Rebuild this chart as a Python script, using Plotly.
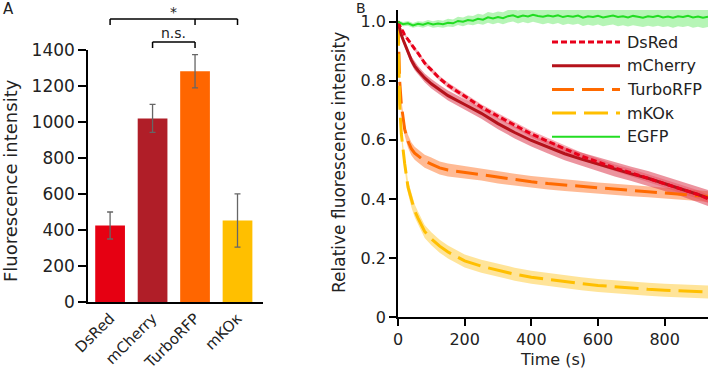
import plotly.graph_objects as go

W, H = 709, 372
FONT = "DejaVu Sans"
TXT = "#222222"

# ---------------- Panel A data ----------------
proteins = ["DsRed", "mCherry", "TurboRFP", "mKO\u03ba"]
intensity = [425, 1020, 1282, 453]
intensity_err = [75, 78, 92, 148]
bar_colors = ["#e60012", "#b01e28", "#ff6600", "#ffbf00"]
y_ticks_a = [0, 200, 400, 600, 800, 1000, 1200, 1400]

# ---------------- Panel B data ----------------
time_s = [0, 5, 10, 15, 20, 30, 40, 50, 60, 80, 100, 125, 150, 200, 250, 300,
          350, 400, 450, 500, 550, 600, 650, 700, 750, 800, 850, 900, 930]
dsred = [1.0, 0.985, 0.975, 0.967, 0.955, 0.94, 0.922, 0.908, 0.894, 0.86, 0.837,
         0.808, 0.785, 0.747, 0.711, 0.68, 0.65, 0.62, 0.595, 0.57, 0.545, 0.525,
         0.505, 0.488, 0.47, 0.452, 0.435, 0.415, 0.40]
dsred_sd = [0, 0.003, 0.004, 0.005, 0.005, 0.006, 0.006, 0.007, 0.007, 0.008, 0.008,
            0.008, 0.009, 0.009, 0.01, 0.01, 0.01, 0.011, 0.011, 0.011, 0.012, 0.012,
            0.012, 0.013, 0.013, 0.013, 0.014, 0.014, 0.014]
mcherry = [1.0, 0.975, 0.955, 0.94, 0.925, 0.895, 0.87, 0.85, 0.835, 0.81, 0.79,
           0.77, 0.75, 0.72, 0.69, 0.655, 0.625, 0.598, 0.575, 0.553, 0.535, 0.518,
           0.5, 0.485, 0.47, 0.452, 0.435, 0.415, 0.403]
mcherry_sd = [0, 0.005, 0.008, 0.01, 0.01, 0.012, 0.013, 0.014, 0.015, 0.015, 0.016,
              0.016, 0.017, 0.018, 0.018, 0.019, 0.02, 0.02, 0.021, 0.022, 0.022, 0.023,
              0.024, 0.024, 0.025, 0.025, 0.026, 0.026, 0.027]
turborfp = [1.0, 0.80, 0.72, 0.67, 0.635, 0.595, 0.57, 0.555, 0.545, 0.528, 0.518,
            0.505, 0.498, 0.49, 0.483, 0.473, 0.465, 0.458, 0.452, 0.447, 0.442, 0.437,
            0.432, 0.428, 0.424, 0.42, 0.416, 0.411, 0.408]
turborfp_sd = [0, 0.01, 0.015, 0.018, 0.02, 0.022, 0.022, 0.022, 0.022, 0.022, 0.022,
               0.022, 0.022, 0.021, 0.021, 0.021, 0.02, 0.02, 0.02, 0.02, 0.019, 0.019,
               0.019, 0.019, 0.018, 0.018, 0.018, 0.018, 0.018]
mko = [1.0, 0.72, 0.62, 0.56, 0.52, 0.44, 0.395, 0.36, 0.335, 0.29, 0.265, 0.24,
       0.22, 0.19, 0.172, 0.158, 0.145, 0.135, 0.127, 0.12, 0.113, 0.107, 0.102,
       0.098, 0.094, 0.091, 0.088, 0.086, 0.085]
mko_sd = [0, 0.012, 0.016, 0.018, 0.02, 0.022, 0.022, 0.022, 0.022, 0.022, 0.022,
          0.022, 0.022, 0.022, 0.022, 0.022, 0.022, 0.022, 0.022, 0.022, 0.022, 0.022,
          0.022, 0.022, 0.022, 0.022, 0.022, 0.022, 0.022]

egfp_time = [0, 15, 30, 45, 60, 75, 90, 105, 120, 135, 150, 165, 180, 195, 210, 225,
             240, 255, 270, 285, 300, 315, 330, 345, 360, 375, 390, 405, 420, 435,
             450, 465, 480, 495, 510, 525, 540, 555, 570, 585, 600, 615, 630, 645,
             660, 675, 690, 705, 720, 735, 750, 765, 780, 795, 810, 825, 840, 855,
             870, 885, 900, 915, 930]
egfp = [1.0, 0.992, 0.995, 0.988, 0.993, 0.99, 0.996, 0.991, 0.994, 0.992, 0.997,
        0.995, 1.003, 1.0, 1.006, 1.004, 1.01, 1.007, 1.015, 1.011, 1.016, 1.012,
        1.019, 1.022, 1.016, 1.021, 1.018, 1.024, 1.02, 1.017, 1.021, 1.018, 1.022,
        1.016, 1.02, 1.017, 1.021, 1.014, 1.019, 1.016, 1.02, 1.015, 1.018, 1.021,
        1.016, 1.019, 1.015, 1.02, 1.017, 1.014, 1.019, 1.016, 1.02, 1.015, 1.018,
        1.014, 1.019, 1.016, 1.02, 1.015, 1.018, 1.014, 1.017]
egfp_sd = [0.005, 0.007, 0.008, 0.008, 0.009, 0.01, 0.01, 0.011, 0.012, 0.012, 0.013,
           0.013, 0.014, 0.015, 0.015, 0.016, 0.017, 0.017, 0.018, 0.019, 0.019, 0.02,
           0.021, 0.021, 0.022, 0.022, 0.023, 0.024, 0.024, 0.025, 0.025, 0.026, 0.026,
           0.027, 0.027, 0.027, 0.028, 0.028, 0.029, 0.029, 0.029, 0.03, 0.03, 0.03,
           0.031, 0.031, 0.031, 0.032, 0.032, 0.032, 0.032, 0.033, 0.033, 0.033, 0.033,
           0.034, 0.034, 0.034, 0.034, 0.035, 0.035, 0.035, 0.035]

x_ticks_b = [0, 200, 400, 600, 800]
y_ticks_b = [0, 0.2, 0.4, 0.6, 0.8, 1.0]
y_ticktext_b = ["0", "0.2", "0.4", "0.6", "0.8", "1.0"]

series = [
    # name, time, mean, sd, line colour, band colour, dash, width
    ("TurboRFP", time_s, turborfp, turborfp_sd, "#ff6a00", "rgba(255,130,60,0.55)", "22px,8px", 3),
    ("mKO\u03ba", time_s, mko, mko_sd, "#ffbf00", "rgba(255,205,70,0.55)", "24px,8px", 3),
    ("mCherry", time_s, mcherry, mcherry_sd, "#b5121b", "rgba(220,60,80,0.55)", "solid", 3),
    ("DsRed", time_s, dsred, dsred_sd, "#e8001a", "rgba(235,70,90,0.45)", "6px,3px", 3),
    ("EGFP", egfp_time, egfp, egfp_sd, "#22dd22", "rgba(110,235,110,0.5)", "solid", 2),
]
legend_order = ["DsRed", "mCherry", "TurboRFP", "mKO\u03ba", "EGFP"]

fig = go.Figure()

# ---- Panel A: bars ----
fig.add_trace(go.Bar(
    x=proteins, y=intensity, marker=dict(color=bar_colors, line=dict(width=0)),
    width=0.7,
    error_y=dict(type="data", array=intensity_err, color="#666666", thickness=1.3, width=3),
    xaxis="x", yaxis="y", showlegend=False,
))

# ---- Panel B: bands then lines ----
for name, t, m, sd, lc, bc, dash, lw in series:
    upper = [a + b for a, b in zip(m, sd)]
    lower = [a - b for a, b in zip(m, sd)]
    fig.add_trace(go.Scatter(
        x=list(t) + list(t)[::-1], y=upper + lower[::-1], fill="toself",
        fillcolor=bc, line=dict(width=0), mode="lines", hoverinfo="skip",
        xaxis="x2", yaxis="y2", showlegend=False,
    ))
for name, t, m, sd, lc, bc, dash, lw in series:
    fig.add_trace(go.Scatter(
        x=t, y=m, mode="lines", name=name,
        line=dict(color=lc, width=lw, dash=dash),
        xaxis="x2", yaxis="y2", showlegend=False,
    ))


def px_x(p):
    return p / W


def px_y(p):
    return (H - p) / H


axis_common = dict(showgrid=False, zeroline=False, showline=True, linecolor="black",
                   linewidth=1.5, tickcolor="black", tickwidth=1.5, automargin=False)

fig.update_layout(
    width=W, height=H, margin=dict(l=0, r=0, t=0, b=0),
    paper_bgcolor="white", plot_bgcolor="white",
    font=dict(family=FONT, color=TXT, size=16),
    showlegend=False,
    xaxis=dict(domain=[px_x(88), px_x(263)], range=[-0.52, 3.6], ticks="",
               tickangle=-45, tickfont=dict(size=15), anchor="y", **axis_common),
    yaxis=dict(domain=[px_y(302), px_y(50)], range=[0, 1400], tickvals=y_ticks_a,
               ticks="outside", ticklen=8, tickfont=dict(size=17), anchor="x",
               **axis_common),
    xaxis2=dict(domain=[px_x(398), px_x(708)], range=[0, 930], tickvals=x_ticks_b,
                ticks="outside", ticklen=7, tickfont=dict(size=16), anchor="y2",
                ticklabelstandoff=0, **axis_common),
    yaxis2=dict(domain=[px_y(317), px_y(10)], range=[0, 1.04], tickvals=y_ticks_b,
                ticktext=y_ticktext_b, ticks="outside", ticklen=7,
                tickfont=dict(size=16), anchor="x2", **axis_common),
)

shapes = []
annotations = []


# significance brackets (panel A)
def bracket(x0, x1, ytop, ybot, mid=None):
    out = [dict(type="line", xref="x", yref="paper", x0=x0, x1=x1,
                y0=px_y(ytop), y1=px_y(ytop)),
           dict(type="line", xref="x", yref="paper", x0=x0, x1=x0,
                y0=px_y(ytop), y1=px_y(ybot)),
           dict(type="line", xref="x", yref="paper", x0=x1, x1=x1,
                y0=px_y(ytop), y1=px_y(ybot))]
    if mid is not None:
        out.append(dict(type="line", xref="x", yref="paper", x0=mid, x1=mid,
                        y0=px_y(ytop), y1=px_y(ybot)))
    for s in out:
        s["line"] = dict(color="black", width=1.5)
    return out


shapes += bracket(0, 3, 19, 25, mid=2)
shapes += bracket(1, 2, 42, 48)
annotations.append(dict(text="*", x=1.5, y=px_y(12), xref="x", yref="paper",
                        showarrow=False, font=dict(size=14), yanchor="middle"))
annotations.append(dict(text="n.s.", x=1.5, y=px_y(33), xref="x", yref="paper",
                        showarrow=False, font=dict(size=14), yanchor="middle"))

# panel labels and axis titles
annotations += [
    dict(text="A", x=px_x(1), y=px_y(9), xref="paper", yref="paper", showarrow=False,
         xanchor="left", yanchor="middle", font=dict(size=15)),
    dict(text="B", x=px_x(355), y=px_y(8), xref="paper", yref="paper", showarrow=False,
         xanchor="left", yanchor="middle", font=dict(size=14), borderpad=0),
    dict(text="Fluorescence intensity", x=px_x(10), y=px_y(181), xref="paper",
         yref="paper", showarrow=False, textangle=-90, xanchor="center",
         yanchor="middle", font=dict(size=18)),
    dict(text="Relative fluorescence intensity", x=px_x(339), y=px_y(163),
         xref="paper", yref="paper", showarrow=False, textangle=-90,
         xanchor="center", yanchor="middle", font=dict(size=17)),
    dict(text="Time (s)", x=px_x(553), y=px_y(359), xref="paper", yref="paper",
         showarrow=False, xanchor="center", yanchor="middle", font=dict(size=16)),
]

# custom legend (panel B)
style = {s[0]: s for s in series}
for i, name in enumerate(legend_order):
    _, _, _, _, lc, _, dash, lw = style[name]
    yy = 42 + i * 23.7
    shapes.append(dict(type="line", xref="paper", yref="paper", x0=px_x(552),
                       x1=px_x(620), y0=px_y(yy), y1=px_y(yy),
                       line=dict(color=lc, width=lw, dash=dash)))
    annotations.append(dict(text=name, x=px_x(625), y=px_y(yy), xref="paper",
                            yref="paper", showarrow=False, xanchor="left",
                            yanchor="middle", font=dict(size=16)))

fig.update_layout(shapes=shapes, annotations=annotations)
fig.write_html(
    "out.html",
    config={"displayModeBar": False},
    post_script="document.body.style.margin='0';document.body.style.overflow='hidden';",
)
